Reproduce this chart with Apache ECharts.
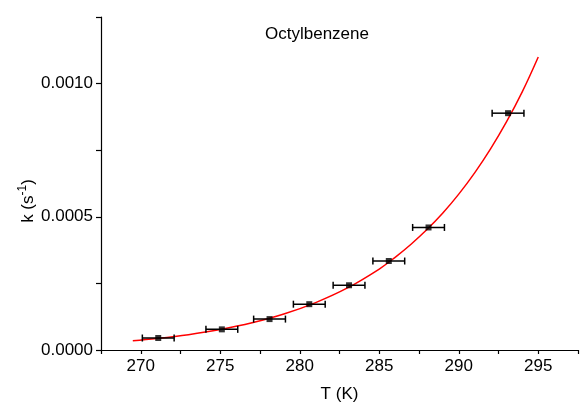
<!DOCTYPE html>
<html>
<head>
<meta charset="utf-8">
<script src="https://cdn.jsdelivr.net/npm/echarts@6/dist/echarts.min.js"></script>
<style>
  html, body { margin: 0; padding: 0; background: #fff; }
  #chart { width: 582px; height: 410px; }
</style>
</head>
<body>
<div id="chart"></div>
<script>
// Measured rate constants for octylbenzene
var temps = [271.1, 275.1, 278.1, 280.6, 283.1, 285.6, 288.1, 293.1];
var rates = [0.000045, 0.0000775, 0.000116, 0.000172, 0.000243, 0.000334, 0.00046, 0.000889];
var tempErr = [1.0, 1.0, 1.0, 1.0, 1.0, 1.0, 1.0, 1.0];

// Fitted curve, sampled along T
var fitT = [269.5, 271, 273, 275, 277, 279, 281, 283, 285, 286, 287, 288, 289, 290, 291, 292, 293, 294, 295];
var fitK = [0.0000345, 0.0000430, 0.0000576, 0.0000768, 0.000102, 0.000135, 0.000178, 0.000233,
            0.000304, 0.000348, 0.000397, 0.000452, 0.000514, 0.000585, 0.000665, 0.000755,
            0.000856, 0.00097, 0.0011];

var xTicks = [270, 275, 280, 285, 290, 295];
var yTicks = [0, 0.0005, 0.0010];

var font = '"Liberation Sans", Arial, sans-serif';

var points = temps.map(function (t, i) { return [t, rates[i]]; });
var bars = temps.map(function (t, i) { return [t - tempErr[i], t + tempErr[i], rates[i]]; });
var fit = fitT.map(function (t, i) { return [t, fitK[i]]; });

var chart = echarts.init(document.getElementById('chart'));
chart.setOption({
  animation: false,
  backgroundColor: '#fff',
  title: {
    text: 'Octylbenzene',
    left: 312, top: 21, textAlign: 'center',
    textStyle: { fontFamily: font, fontSize: 17, fontWeight: 'normal', color: '#000' }
  },
  grid: { left: 101, right: 4, top: 17, bottom: 60 },
  xAxis: {
    type: 'value', min: 267.5, max: 297.5, interval: 2.5,
    name: 'T (K)', nameLocation: 'middle', nameGap: 36,
    nameTextStyle: { fontFamily: font, fontSize: 17, color: '#000' },
    axisLine: { onZero: false, lineStyle: { color: '#000', width: 1.2 } },
    axisTick: { length: 4, lineStyle: { color: '#000', width: 1.2 } },
    axisLabel: {
      fontFamily: font, fontSize: 17, color: '#000', margin: 8,
      formatter: function (v) { return xTicks.indexOf(v) >= 0 ? String(v) : ''; }
    },
    splitLine: { show: false }
  },
  yAxis: {
    type: 'value', min: 0, max: 0.00125, interval: 0.00025,
    axisLine: { show: true, lineStyle: { color: '#000', width: 1.2 } },
    axisTick: { show: true, length: 5, lineStyle: { color: '#000', width: 1.2 } },
    axisLabel: {
      fontFamily: font, fontSize: 17, color: '#000', margin: 8,
      formatter: function (v) {
        for (var i = 0; i < yTicks.length; i++) {
          if (Math.abs(v - yTicks[i]) < 1e-9) return yTicks[i].toFixed(4);
        }
        return '';
      }
    },
    splitLine: { show: false }
  },
  graphic: [{
    type: 'text',
    x: 27, y: 201, rotation: Math.PI / 2,
    style: {
      text: '{n|k (s}{s|-1}{n|)}',
      textAlign: 'center', textVerticalAlign: 'middle',
      rich: {
        n: { fontFamily: font, fontSize: 17, fill: '#000', verticalAlign: 'bottom' },
        s: { fontFamily: font, fontSize: 12, fill: '#000', verticalAlign: 'top', padding: [0, 0, 8, 0] }
      }
    }
  }],
  series: [
    {
      type: 'line', data: fit, smooth: 0.4, showSymbol: false, z: 2,
      lineStyle: { color: '#ff0000', width: 1.5 }
    },
    {
      type: 'custom', z: 3,
      renderItem: function (params, api) {
        var a = api.coord([api.value(0), api.value(2)]);
        var b = api.coord([api.value(1), api.value(2)]);
        var h = 3.5;
        var st = { stroke: '#000', lineWidth: 1.5 };
        return {
          type: 'group',
          children: [
            { type: 'line', shape: { x1: a[0], y1: a[1], x2: b[0], y2: b[1] }, style: st },
            { type: 'line', shape: { x1: a[0], y1: a[1] - h, x2: a[0], y2: a[1] + h }, style: st },
            { type: 'line', shape: { x1: b[0], y1: b[1] - h, x2: b[0], y2: b[1] + h }, style: st }
          ]
        };
      },
      data: bars
    },
    {
      type: 'scatter', data: points, symbol: 'rect', symbolSize: 6, z: 4,
      itemStyle: { color: '#000' }
    }
  ]
});
</script>
</body>
</html>
